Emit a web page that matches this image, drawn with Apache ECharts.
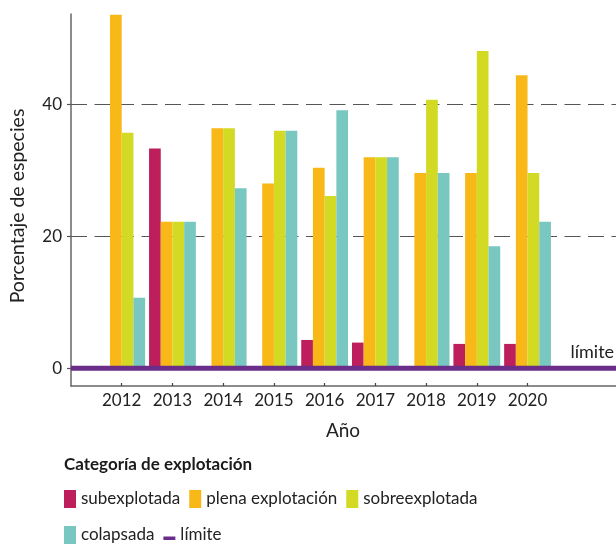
<!DOCTYPE html>
<html><head><meta charset="utf-8">
<script src="https://cdn.jsdelivr.net/npm/echarts@6/dist/echarts.min.js"></script>
<style>html,body{margin:0;padding:0;background:#fff}#c{width:616px;height:545px}</style>
</head><body><div id="c"></div>
<script>
// ---- data ----
const years = ['2012','2013','2014','2015','2016','2017','2018','2019','2020'];
const subexplotada     = [null, 33.3, null, null, 4.3, 3.9, null, 3.7, 3.7];
const plenaExplotacion = [53.6, 22.2, 36.4, 28.0, 30.4, 32.0, 29.6, 29.6, 44.4];
const sobreexplotada   = [35.7, 22.2, 36.4, 36.0, 26.1, 32.0, 40.7, 48.1, 29.6];
const colapsada        = [10.7, 22.2, 27.3, 36.0, 39.1, 32.0, 29.6, 18.5, 22.2];
const limiteValue = 0;
const yTicks = [0, 20, 40];
const yMin = -2.68, yMax = 53.7;

// ---- styling ----
const FONT = 'Lato';
const C = {sub:'#BC1F5C', plena:'#F8B818', sobre:'#D2DA24', col:'#79C7C1', lim:'#6B2D8A'};
const TXT = '#222';

const cats = ['', ...years, '', ''];
const pad = a => [null, ...a, null, null];
const limData = cats.map((c, i) => i === 10 ? {
  value: limiteValue,
  label: {show: true, position: 'top', distance: 7, offset: [14, 0], formatter: '{a}',
          fontSize: 18, fontFamily: FONT, color: TXT}
} : limiteValue);

const bar = (name, data, color) => ({
  name, type: 'bar', data: pad(data), barWidth: 11.7, barGap: '0%',
  itemStyle: {color}, silent: true
});

const chart = echarts.init(document.getElementById('c'), null, {renderer: 'canvas'});
chart.setOption({
  animation: false,
  backgroundColor: '#fff',
  textStyle: {fontFamily: FONT},
  title: {text: 'Categoría de explotación', left: 64, top: 456, padding: 0,
          textStyle: {fontFamily: FONT, fontSize: 17, fontWeight: 'bold', color: '#1a1a1a'}},
  grid: {left: 71, width: 558, top: 14, bottom: 159, containLabel: false, outerBoundsMode: 'none'},
  legend: [
    {left: 64, top: 490, padding: 0, itemWidth: 12, itemHeight: 18, itemGap: 9, selectedMode: false,
     textStyle: {fontSize: 17, color: TXT, fontFamily: FONT},
     data: [{name: 'subexplotada', icon: 'rect'}, {name: 'plena explotación', icon: 'rect'}, {name: 'sobreexplotada', icon: 'rect'}]},
    {left: 64, top: 526, padding: 0, itemWidth: 12, itemHeight: 18, itemGap: 9, selectedMode: false,
     textStyle: {fontSize: 17, color: TXT, fontFamily: FONT},
     data: [{name: 'colapsada', icon: 'rect'},
            {name: 'límite', icon: 'path://M0,0M0,10.5h12v3.5h-12zM12,18', itemStyle: {color: C.lim}}]}
  ],
  xAxis: {
    type: 'category', data: cats, boundaryGap: false,
    name: 'Año', nameLocation: 'middle', nameGap: 35,
    nameTextStyle: {fontFamily: FONT, fontSize: 19, color: TXT, padding: [0, 14, 0, 0]},
    axisLine: {onZero: false, lineStyle: {color: '#666', width: 1.5}},
    axisTick: {show: true, inside: true, length: 3, interval: (i, v) => v !== '', lineStyle: {color: '#444', width: 1.2}},
    axisLabel: {interval: 0, margin: 6, fontSize: 17, color: TXT, fontFamily: FONT},
    splitLine: {show: false}
  },
  yAxis: {
    type: 'value', min: yMin, max: yMax,
    name: 'Porcentaje de especies', nameLocation: 'middle', nameGap: 43,
    nameTextStyle: {fontFamily: FONT, fontSize: 19.5, color: TXT, padding: [0, 12, 0, 0]},
    axisLine: {show: true, lineStyle: {color: '#666', width: 1.5}},
    axisTick: {show: true, length: 4, customValues: yTicks, lineStyle: {color: '#555', width: 1.2}},
    axisLabel: {customValues: yTicks, margin: 9, fontSize: 17, color: TXT, fontFamily: FONT},
    splitLine: {show: true, lineStyle: {type: [16, 7.5], color: '#555', width: 1.2}}
  },
  series: [
    bar('subexplotada', subexplotada, C.sub),
    bar('plena explotación', plenaExplotacion, C.plena),
    bar('sobreexplotada', sobreexplotada, C.sobre),
    bar('colapsada', colapsada, C.col),
    {name: 'límite', type: 'line', data: limData, symbol: 'circle', symbolSize: 0, showSymbol: true,
     lineStyle: {color: C.lim, width: 5}, itemStyle: {color: C.lim}, z: 5, silent: true}
  ]
});
</script>
</body></html>
